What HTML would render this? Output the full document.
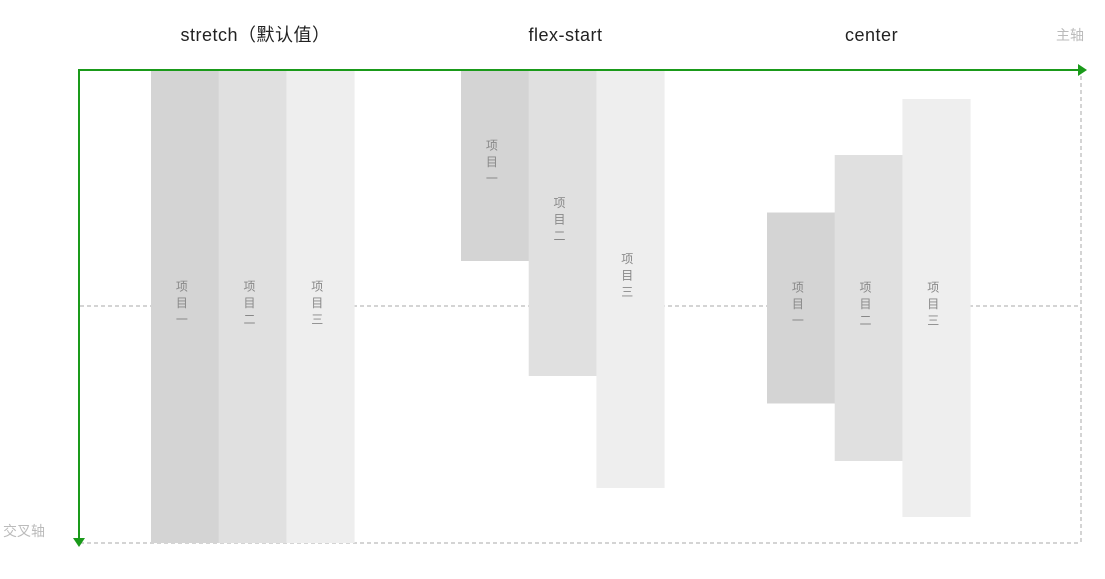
<!DOCTYPE html>
<html><head><meta charset="utf-8"><style>
body{margin:0;width:1105px;height:579px;background:#fff;overflow:hidden;font-family:"Liberation Sans","Noto Sans CJK SC",sans-serif;}
svg{display:block}
</style></head><body>
<svg id="chart" width="1105" height="579" xmlns="http://www.w3.org/2000/svg"></svg>
<script>
const groupTitles = ["stretch（默认值）", "flex-start", "center"];
const groupAligns = ["stretch", "flex-start", "center"];
const itemLabels = ["一", "二", "三"];
// item heights in cross-axis pixels (null = stretch)
const groupHeights = [[null, null, null], [190, 305, 417], [191, 306, 418]];
const groupStartX = [151, 461, 767];
const itemColors = ["#d4d4d4", "#e0e0e0", "#eeeeee"];

const NS = "http://www.w3.org/2000/svg";
const svg = document.getElementById("chart");
const crossTop = 71, crossBottom = 543, itemW = 67.7;
function el(tag, attrs, parent) {
  const e = document.createElementNS(NS, tag);
  for (const k in attrs) e.setAttribute(k, attrs[k]);
  (parent || svg).appendChild(e);
  return e;
}
function yPos(align, h) {
  if (align === "stretch") return [crossTop, crossBottom - crossTop];
  if (align === "flex-start") return [crossTop, h];
  const mid = (crossTop + crossBottom) / 2 + 1;
  return [mid - h / 2, h];
}
let g = el("line", {x1: 80, y1: 306, x2: 1081, y2: 306, stroke: "#aaa", "stroke-dasharray": "4 3", "stroke-width": 1});


g = el("line", {x1: 80, y1: 543, x2: 1081, y2: 543, stroke: "#aaa", "stroke-dasharray": "4 3", "stroke-width": 1});


g = el("line", {x1: 1081, y1: 76, x2: 1081, y2: 543, stroke: "#aaa", "stroke-dasharray": "4 3", "stroke-width": 1});



groupTitles.forEach((t, gi) => {
  const x0 = groupStartX[gi];
  const tt = el("text", {x: x0 + itemW * 1.5 + 3, y: 41, "text-anchor": "middle", "font-size": 18, "letter-spacing": 0.5, fill: "#222"});
  tt.textContent = t;
  
  
  itemLabels.forEach((lab, i) => {
    const [y, h] = yPos(groupAligns[gi], groupHeights[gi][i]);
    const x = x0 + i * itemW;
    const r = el("rect", {x: x, y: y, width: itemW + 0.5, height: h, fill: itemColors[i]});
    
    
    const cy = y + h / 2;
    ["项", "目", lab].forEach((ch, k) => {
      const tx = el("text", {x: x + itemW / 2 - 3, y: cy + (k - 1) * 16.5, "text-anchor": "middle", "font-size": 12, fill: "#888"});
      tx.textContent = ch;
      
      
    });
  });
});

let a = el("line", {x1: 78, y1: 70, x2: 1080, y2: 70, stroke: "#1a9a1a", "stroke-width": 2});


a = el("polygon", {points: "1078,64 1087,70 1078,76", fill: "#1a9a1a"});


a = el("line", {x1: 79, y1: 69, x2: 79, y2: 540, stroke: "#1a9a1a", "stroke-width": 2});


a = el("polygon", {points: "73,538 79,547 85,538", fill: "#1a9a1a"});


a = el("text", {x: 1056, y: 40, "font-size": 14, fill: "#bbb"});
a.textContent = "主轴";


a = el("text", {x: 3, y: 536, "font-size": 14, fill: "#bbb"});
a.textContent = "交叉轴";


</script>
</body></html>
